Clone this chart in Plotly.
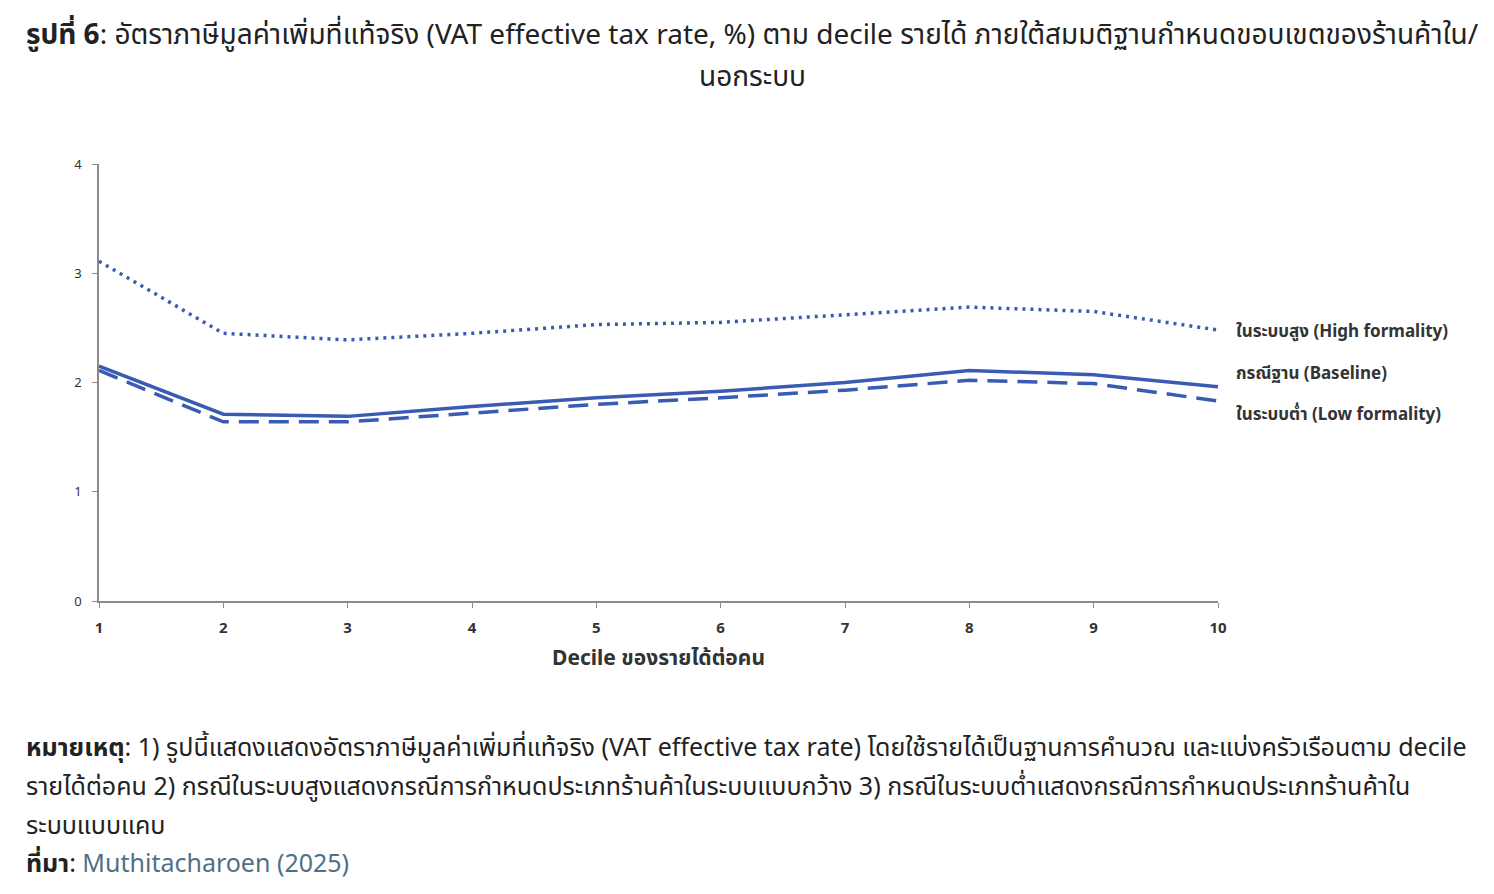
import plotly.graph_objects as go

# ข้อมูล (อ่านค่าจากรูป)
deciles = [1, 2, 3, 4, 5, 6, 7, 8, 9, 10]
high_formality = [3.11, 2.45, 2.39, 2.45, 2.53, 2.55, 2.62, 2.69, 2.65, 2.48]
baseline = [2.15, 1.71, 1.69, 1.78, 1.86, 1.92, 2.00, 2.11, 2.07, 1.96]
low_formality = [2.11, 1.64, 1.64, 1.72, 1.80, 1.86, 1.93, 2.02, 1.99, 1.83]
y_ticks = [0, 1, 2, 3, 4]

label_high = "ในระบบสูง (High formality)"
label_base = "กรณีฐาน (Baseline)"
label_low = "ในระบบต่ำ (Low formality)"

title_line1 = "<b>รูปที่ 6</b>: อัตราภาษีมูลค่าเพิ่มที่แท้จริง (VAT effective tax rate, %) ตาม decile รายได้ ภายใต้สมมติฐานกำหนดขอบเขตของร้านค้าใน/"
title_line2 = "นอกระบบ"
note_lines = [
    "<b>หมายเหตุ</b>: 1) รูปนี้แสดงแสดงอัตราภาษีมูลค่าเพิ่มที่แท้จริง (VAT effective tax rate) โดยใช้รายได้เป็นฐานการคำนวณ และแบ่งครัวเรือนตาม decile",
    "รายได้ต่อคน 2) กรณีในระบบสูงแสดงกรณีการกำหนดประเภทร้านค้าในระบบแบบกว้าง 3) กรณีในระบบต่ำแสดงกรณีการกำหนดประเภทร้านค้าใน",
    "ระบบแบบแคบ",
    "<b>ที่มา</b>: <span style='color:#4f7185'>Muthitacharoen (2025)</span>",
]

BLUE = "#3a5bb3"
FONT = "Noto Sans, Noto Sans Thai, sans-serif"

# ขนาดรูปและพื้นที่กราฟ (พิกเซล)
W, H = 1494, 894
L, R, T, B = 99, 276, 164, 293


def px_x(p):
    return (p - L) / (W - L - R)


def px_y(p):
    return (H - p - B) / (H - T - B)


fig = go.Figure()
fig.add_trace(go.Scatter(x=deciles, y=high_formality, mode="lines", name=label_high,
                         line=dict(color=BLUE, width=3.5, dash="3px,5px")))
fig.add_trace(go.Scatter(x=deciles, y=baseline, mode="lines", name=label_base,
                         line=dict(color=BLUE, width=3.5)))
fig.add_trace(go.Scatter(x=deciles, y=low_formality, mode="lines", name=label_low,
                         line=dict(color=BLUE, width=3.5, dash="20px,10px")))

# ป้ายชื่อเส้นด้านขวา
for txt, yv, shift in [(label_high, high_formality[-1], 0),
                       (label_base, baseline[-1], 14),
                       (label_low, low_formality[-1], -12)]:
    fig.add_annotation(x=1, xref="paper", xanchor="left", xshift=16,
                       y=yv, yref="y", yanchor="middle", yshift=shift, text=txt,
                       showarrow=False,
                       font=dict(size=17, color="#333333", family=FONT, weight="bold"))

# หัวเรื่อง
for txt, py in [(title_line1, 33), (title_line2, 75)]:
    fig.add_annotation(x=px_x(752), xref="paper", xanchor="center",
                       y=px_y(py), yref="paper", yanchor="middle", text=txt,
                       showarrow=False, font=dict(size=28, color="#222222", family=FONT))

# หมายเหตุ
for txt, py in zip(note_lines, [746, 785, 824, 862]):
    fig.add_annotation(x=px_x(24), xref="paper", xanchor="left",
                       y=px_y(py), yref="paper", yanchor="middle", text=txt,
                       showarrow=False, font=dict(size=25, color="#222222", family=FONT))

fig.update_layout(
    width=W, height=H, autosize=False,
    margin=dict(l=L, r=R, t=T, b=B),
    plot_bgcolor="white", paper_bgcolor="white",
    showlegend=False,
    font=dict(family=FONT, color="#333333"),
    xaxis=dict(range=[1, 10], tickvals=deciles, showgrid=False, zeroline=False,
               showline=True, linecolor="#8a8a8a", linewidth=1.5,
               ticks="outside", ticklen=5, tickcolor="#8a8a8a",
               ticklabelstandoff=7,
               tickfont=dict(size=15, color="#333333", weight="bold"),
               title=dict(text="Decile ของรายได้ต่อคน",
                          font=dict(size=21, color="#333333", weight="bold"), standoff=15)),
    yaxis=dict(range=[0, 4], tickvals=y_ticks, showgrid=False, zeroline=False,
               showline=True, linecolor="#8a8a8a", linewidth=1.5,
               ticks="outside", ticklen=5, tickcolor="#8a8a8a",
               ticklabelstandoff=8,
               tickfont=dict(size=13, color="#333333")),
)

fig.write_html("out.html", config={"displayModeBar": False},
               post_script="document.body.style.margin='0';")
